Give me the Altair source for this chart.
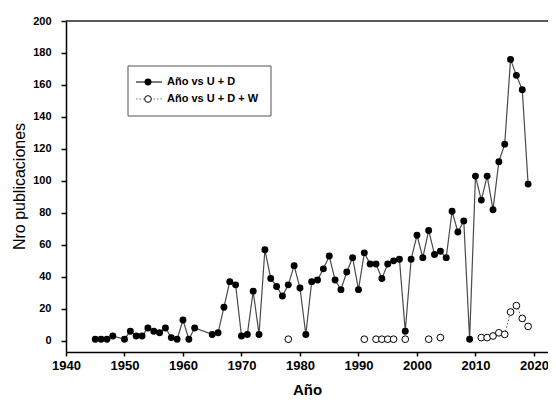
import altair as alt
import pandas as pd

# ---- data ----
years_ud = [1945, 1946, 1947, 1948, 1950, 1951, 1952, 1953, 1954, 1955, 1956, 1957,
            1958, 1959, 1960, 1961, 1962, 1965, 1966, 1967, 1968, 1969, 1970, 1971,
            1972, 1973, 1974, 1975, 1976, 1977, 1978, 1979, 1980, 1981, 1982, 1983,
            1984, 1985, 1986, 1987, 1988, 1989, 1990, 1991, 1992, 1993, 1994, 1995,
            1996, 1997, 1998, 1999, 2000, 2001, 2002, 2003, 2004, 2005, 2006, 2007,
            2008, 2009, 2010, 2011, 2012, 2013, 2014, 2015, 2016, 2017, 2018, 2019]
pubs_ud = [1, 1, 1, 3, 1, 6, 3, 3, 8, 6, 5, 8,
           2, 1, 13, 1, 8, 4, 5, 21, 37, 35, 3, 4,
           31, 4, 57, 39, 34, 28, 35, 47, 33, 4, 37, 38,
           45, 53, 38, 32, 43, 52, 32, 55, 48, 48, 39, 48,
           50, 51, 6, 51, 66, 52, 69, 54, 56, 52, 81, 68,
           75, 1, 103, 88, 103, 82, 112, 123, 176, 166, 157, 98]

years_udw = [1978, 1991, 1993, 1994, 1995, 1996, 1998, 2002, 2004,
             2011, 2012, 2013, 2014, 2015, 2016, 2017, 2018, 2019]
pubs_udw = [1, 1, 1, 1, 1, 1, 1, 1, 2,
            2, 2, 3, 5, 4, 18, 22, 14, 9]

legend_labels = ["Año vs U + D", "Año vs U + D + W"]
y_ticks = [0, 20, 40, 60, 80, 100, 120, 140, 160, 180, 200]
x_ticks = [1940, 1950, 1960, 1970, 1980, 1990, 2000, 2010, 2020]

df_ud = pd.DataFrame({"year": years_ud, "pubs": pubs_ud})
# break the dotted line where years are not consecutive
seg, s = [], 0
for i, yv in enumerate(years_udw):
    if i > 0 and yv - years_udw[i - 1] != 1:
        s += 1
    seg.append(s)
df_udw = pd.DataFrame({"year": years_udw, "pubs": pubs_udw, "seg": seg})

W, H = 482, 331
FONT = "Liberation Sans"

x_scale = alt.Scale(domain=[1940, 2022.4], nice=False, zero=False)
y_scale = alt.Scale(domain=[-7, 200], nice=False, zero=False)

x_axis = alt.Axis(values=x_ticks, format="d", title="Año", grid=False,
                  labelFont=FONT, labelFontSize=13, labelFontWeight="bold",
                  labelColor="black", tickColor="black", tickSize=4,
                  domainColor="black", domainWidth=1.5, tickWidth=1.5,
                  labelPadding=3, titleFont=FONT, titleFontSize=15,
                  titleFontWeight="bold", titleColor="black", titlePadding=10,
                  labelFlush=False, labelOverlap=False)
y_axis = alt.Axis(values=y_ticks, tickCount=11, title="Nro publicaciones", grid=False,
                  labelFont=FONT, labelFontSize=11, labelFontWeight="bold",
                  labelColor="black", tickColor="black", tickSize=5,
                  domainColor="black", domainWidth=1.5, tickWidth=1.5,
                  labelPadding=10, titleFont=FONT, titleFontSize=16,
                  titleFontWeight="normal", titleColor="black",
                  titleX=-47, titleY=165, titleBaseline="middle",
                  labelFlush=False, labelOverlap=False, labelSeparation=0)

X = alt.X("year:Q", scale=x_scale, axis=x_axis)
Y = alt.Y("pubs:Q", scale=y_scale, axis=y_axis)

line_ud = alt.Chart(df_ud).mark_line(color="#4a4a4a", strokeWidth=1.2).encode(
    x=X, y=Y)
pts_ud = alt.Chart(df_ud).mark_point(filled=True, shape="circle", size=48,
                                     color="black", opacity=1).encode(x=X, y=Y)
line_udw = alt.Chart(df_udw).mark_line(color="#555555", strokeWidth=1,
                                       strokeDash=[1.5, 2]).encode(
    x=X, y=Y, detail="seg:N")
pts_udw = alt.Chart(df_udw).mark_point(shape="circle", size=45, filled=False,
                                       fill="white", stroke="black",
                                       strokeWidth=1, opacity=1).encode(x=X, y=Y)

one = pd.DataFrame({"k": [0]})
top_rule = alt.Chart(one).mark_rule(color="#222222", strokeWidth=1.5).encode(
    x=alt.value(0), x2=alt.value(W), y=alt.value(0))

# ---- legend (drawn by hand) ----
leg_box = alt.Chart(one).mark_rect(fill="white", stroke="#555555",
                                   strokeWidth=1).encode(
    x=alt.value(62), x2=alt.value(205), y=alt.value(45), y2=alt.value(95))
leg_l1 = alt.Chart(one).mark_rule(color="#222222", strokeWidth=1.2).encode(
    x=alt.value(70), x2=alt.value(96), y=alt.value(61))
leg_p1 = alt.Chart(one).mark_point(filled=True, shape="circle", size=48,
                                   color="black", opacity=1).encode(
    x=alt.value(82), y=alt.value(61))
leg_t1 = alt.Chart(one).mark_text(text=legend_labels[0], align="left",
                                  baseline="middle", font=FONT, fontSize=11,
                                  fontWeight="bold", color="black").encode(
    x=alt.value(101), y=alt.value(61))
leg_l2 = alt.Chart(one).mark_rule(color="#777777", strokeWidth=1,
                                  strokeDash=[1.5, 2]).encode(
    x=alt.value(70), x2=alt.value(96), y=alt.value(78))
leg_p2 = alt.Chart(one).mark_point(shape="circle", size=45, filled=False,
                                   fill="white", stroke="black",
                                   strokeWidth=1, opacity=1).encode(
    x=alt.value(82), y=alt.value(78))
leg_t2 = alt.Chart(one).mark_text(text=legend_labels[1], align="left",
                                  baseline="middle", font=FONT, fontSize=11,
                                  fontWeight="bold", color="black").encode(
    x=alt.value(101), y=alt.value(78))

chart = alt.layer(
    line_ud, line_udw, pts_ud, pts_udw, top_rule,
    leg_box, leg_l1, leg_p1, leg_t1, leg_l2, leg_p2, leg_t2,
).properties(
    width=W, height=H,
    autosize=alt.AutoSizeParams(type="none"),
    padding={"left": 58, "top": 13, "right": 0, "bottom": 48},
    background="white",
).configure_view(stroke=None)

chart.save("out.html", embed_options={"renderer": "svg", "actions": False})
